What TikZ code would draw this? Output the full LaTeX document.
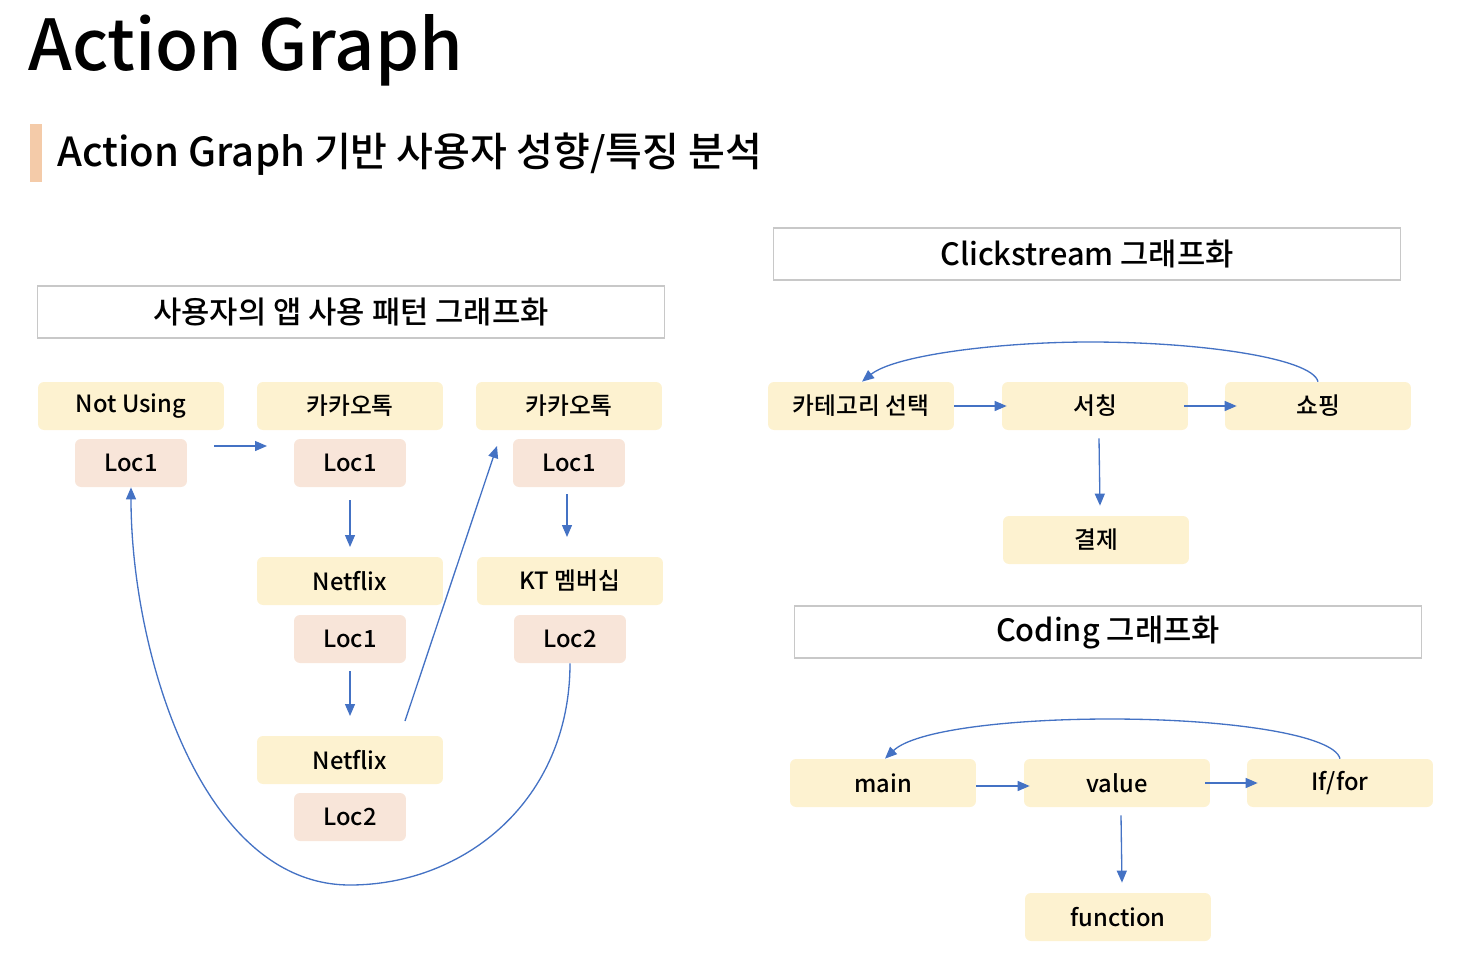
\documentclass[tikz,border=0pt]{standalone}
\usepackage{fontspec}
\setmainfont{Noto Sans CJK KR}
\newfontfamily\medfont{Noto Sans CJK KR Medium}
\usetikzlibrary{arrows.meta}
\definecolor{ybox}{HTML}{FDF2D0}
\definecolor{pbox}{HTML}{F8E5D9}
\definecolor{arr}{HTML}{4472C4}
\definecolor{accent}{HTML}{F4CBA9}
\definecolor{frame}{HTML}{C8C8C8}
\tikzset{
  ynode/.style={fill=ybox, rounded corners=0.12cm, minimum width=3.72cm, minimum height=0.96cm, inner sep=0pt, font=\medfont\fontsize{13.5pt}{15pt}\selectfont},
  pnode/.style={ynode, fill=pbox, minimum width=2.24cm},
  titlebox/.style={draw=frame, line width=0.6pt, minimum width=12.56cm, minimum height=1.04cm, inner sep=0pt, font=\medfont\fontsize{17.5pt}{19pt}\selectfont},
  conn/.style={draw=arr, line width=0.75pt, -{Triangle[length=0.24cm, width=0.2cm]}},
}
\begin{document}
\begin{tikzpicture}[x=0.02cm, y=-0.02cm]
\useasboundingbox (0,0) rectangle (1474,970);
% titles
\node[anchor=west, inner sep=0pt, font=\medfont\fontsize{40pt}{44pt}\selectfont] (title) at (28,50) {Action Graph};
\fill[accent] (30,124) rectangle (42,182);
\node[anchor=west, inner sep=0pt, font=\medfont\fontsize{22.8pt}{26pt}\selectfont] (sub) at (57,154) {Action Graph 기반 사용자 성향/특징 분석};
% section boxes
\node[titlebox] (t1) at (351,312) {사용자의 앱 사용 패턴 그래프화};
\node[titlebox] (t2) at (1087,254) {Clickstream 그래프화};
\node[titlebox] (t3) at (1108,632) {Coding 그래프화};
% left graph
\node[ynode] (a1) at (131,406) {Not Using};
\node[pnode] (a1l) at (131,463) {Loc1};
\node[ynode] (b1) at (350,406) {카카오톡};
\node[pnode] (b1l) at (350,463) {Loc1};
\node[ynode] (c1) at (569,406) {카카오톡};
\node[pnode] (c1l) at (569,463) {Loc1};
\node[ynode] (b2) at (350,581) {Netflix};
\node[pnode] (b2l) at (350,639) {Loc1};
\node[ynode] (c2) at (570,581) {KT 멤버십};
\node[pnode] (c2l) at (570,639) {Loc2};
\node[ynode] (b3) at (350,760) {Netflix};
\node[pnode] (b3l) at (350,817) {Loc2};
\coordinate (h1s) at (214,446); \coordinate (h1e) at (267,446);
\coordinate (v1s) at (350,500); \coordinate (v1e) at (350,547);
\coordinate (v2s) at (567,494); \coordinate (v2e) at (567,537);
\coordinate (v3s) at (350,671); \coordinate (v3e) at (350,716);
\coordinate (d1s) at (405,721); \coordinate (d1e) at (497,446);
\draw[conn] (h1s) -- (h1e);
\draw[conn] (v1s) -- (v1e);
\draw[conn] (v2s) -- (v2e);
\draw[conn] (v3s) -- (v3e);
\draw[conn] (d1s) -- (d1e);
\draw[conn] (c2l.south) .. controls (570,800) and (465,885) .. (350,885) .. controls (200,885) and (131,650) .. (a1l.south);
% clickstream
\node[ynode] (k1) at (861,406) {카테고리 선택};
\node[ynode] (k2) at (1095,406) {서칭};
\node[ynode] (k3) at (1318,406) {쇼핑};
\node[ynode] (k4) at (1096,540) {결제};
\draw[conn] (k1.east) -- ([xshift=0.1cm]k2.west);
\draw[conn] ([xshift=-0.08cm]k2.east) -- ([xshift=0.24cm]k3.west);
\draw[conn] ([xshift=0.08cm,yshift=-0.16cm]k2.south) -- ([xshift=0.08cm,yshift=0.2cm]k4.north);
\draw[conn] (k3.north) .. controls (1312,358) and (1200,342) .. (1090,342) .. controls (1000,342) and (895,355) .. ([xshift=0.02cm]k1.north);
% coding
\node[ynode] (m1) at (883,783) {main};
\node[ynode] (m2) at (1117,783) {value};
\node[ynode] (m3) at (1340,783) {If/for};
\node[ynode] (m4) at (1118,917) {function};
\draw[conn] ([yshift=-0.06cm]m1.east) -- ([xshift=0.12cm,yshift=-0.06cm]m2.west);
\draw[conn] ([xshift=-0.1cm]m2.east) -- ([xshift=0.22cm]m3.west);
\draw[conn] ([xshift=0.08cm,yshift=-0.16cm]m2.south) -- ([xshift=0.08cm,yshift=0.2cm]m4.north);
\draw[conn] (m3.north) .. controls (1334,735) and (1230,719) .. (1110,719) .. controls (1010,719) and (915,730) .. ([xshift=0.04cm]m1.north);
\end{tikzpicture}
\end{document}
